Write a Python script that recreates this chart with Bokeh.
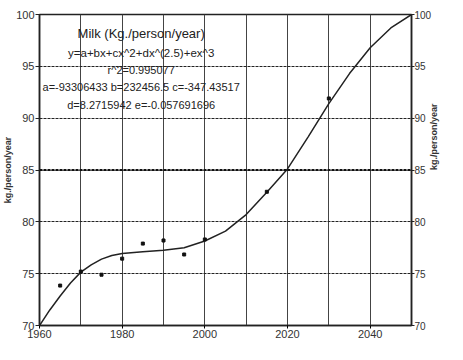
import math
from bokeh.plotting import figure
from bokeh.models import LinearAxis, FixedTicker, Span, Label
from bokeh.embed import file_html
from bokeh.resources import INLINE

# Observed data points
obs_year = [1965, 1970, 1975, 1980, 1985, 1990, 1995, 2000, 2015, 2030]
obs_milk = [73.85, 75.2, 74.9, 76.45, 77.9, 78.2, 76.85, 78.3, 82.9, 91.9]

# Fitted curve
fit_year = [1960, 1962.5, 1965, 1967.5, 1970, 1972.5, 1975, 1977.5, 1980, 1985,
            1990, 1995, 2000, 2005, 2010, 2015, 2020, 2025, 2030, 2035, 2040,
            2045, 2050]
fit_milk = [70.0, 71.5, 72.85, 74.1, 75.15, 75.85, 76.4, 76.75, 76.95, 77.12,
            77.25, 77.5, 78.15, 79.1, 80.7, 82.85, 85.1, 88.2, 91.4, 94.3, 96.8,
            98.7, 100.0]

x_major = [1960, 1980, 2000, 2020, 2040]
x_minor = [1970, 1990, 2010, 2030, 2050]
y_ticks = [70, 75, 80, 85, 90, 95, 100]

title_lines = [
    "Milk (Kg./person/year)",
    "y=a+bx+cx^2+dx^(2.5)+ex^3",
    "r^2=0.995077",
    "a=-93306433 b=232456.5 c=-347.43517",
    "d=8.2715942 e=-0.057691696",
]
axis_title = "kg./person/year"

FONT = "Liberation Sans"

p = figure(width=447, height=344, output_backend="svg", toolbar_location=None,
           x_range=(1960, 2050), y_range=(70, 100),
           min_border_left=38, min_border_right=20, min_border_top=14,
           min_border_bottom=19)
p.background_fill_color = "white"
p.border_fill_color = "white"
p.outline_line_color = "#222222"
p.outline_line_width = 1.5

p.xaxis.ticker = FixedTicker(ticks=x_major, minor_ticks=x_minor)
p.yaxis.ticker = FixedTicker(ticks=y_ticks)

right = LinearAxis(ticker=FixedTicker(ticks=y_ticks))
p.add_layout(right, "right")
if "axis_label_orientation" in right.properties():
    right.axis_label_orientation = math.pi / 2

for ax in p.yaxis:
    ax.axis_label = axis_title
    ax.axis_label_text_font = FONT
    ax.axis_label_text_font_style = "bold"
    ax.axis_label_text_font_size = "9px"
    ax.axis_label_text_color = "#333333"
    ax.axis_label_standoff = 0
    ax.major_label_text_font = FONT
    ax.major_label_text_font_size = "11px"
    ax.major_label_text_color = "#333333"
    ax.major_label_standoff = 1
    ax.major_tick_out = 4
    ax.major_tick_in = 0
    ax.minor_tick_out = 0
    ax.minor_tick_in = 0
    ax.axis_line_color = "#222222"
    ax.axis_line_width = 1.5
    ax.major_tick_line_color = "#222222"

right.major_label_text_font_size = "10px"
right.major_label_standoff = 0
right.major_tick_out = 3

xa = p.xaxis[0]
xa.major_label_text_font = FONT
xa.major_label_text_font_size = "11px"
xa.major_label_text_color = "#333333"
xa.major_label_standoff = 1
xa.major_tick_out = 3
xa.major_tick_in = 0
xa.minor_tick_out = 0
xa.minor_tick_in = 0
xa.axis_line_color = "#222222"
xa.axis_line_width = 1.5

p.xgrid.grid_line_color = "#444444"
p.xgrid.grid_line_width = 1
p.xgrid.minor_grid_line_color = "#444444"
p.xgrid.minor_grid_line_width = 1

p.ygrid.grid_line_color = "#222222"
p.ygrid.grid_line_dash = "3 1"
p.ygrid.grid_line_width = 1.2

p.add_layout(Span(location=85, dimension="width", line_color="#111111",
                  line_width=2.2, line_dash="3 1"))

p.line(fit_year, fit_milk, line_color="#222222", line_width=1.5)
p.scatter(obs_year, obs_milk, marker="square", size=3, color="#111111")

title_y = [98.2, 96.25, 94.65, 92.97, 91.3]
title_size = ["13px", "11.5px", "11px", "11px", "11px"]
for txt, ty, fs in zip(title_lines, title_y, title_size):
    p.add_layout(Label(x=1984.6, y=ty, text=txt, text_align="center",
                       text_baseline="middle", text_font=FONT,
                       text_font_size=fs, text_color="#222222"))

open("out.html", "w").write(file_html(p, INLINE))
